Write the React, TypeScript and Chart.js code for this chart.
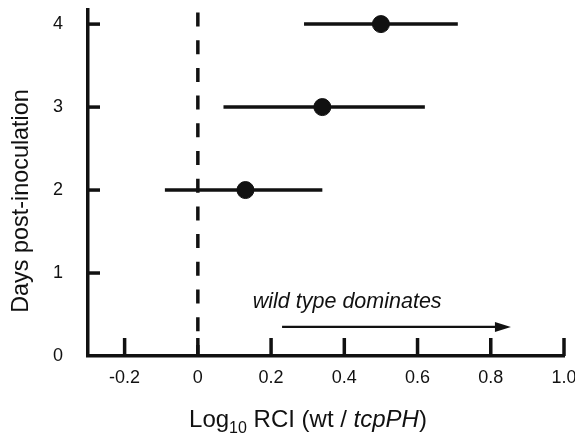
import React, { useEffect, useRef } from "react";
import { Chart, registerables } from "chart.js";

Chart.register(...registerables);

// ---- data ----
const days = [2, 3, 4];
const rciMean = [0.13, 0.34, 0.5];
const rciLow = [-0.09, 0.07, 0.29];
const rciHigh = [0.34, 0.62, 0.71];

const xTicks = [-0.2, 0, 0.2, 0.4, 0.6, 0.8, 1.0];
const yTicks = [0, 1, 2, 3, 4];
const xMin = -0.3;
const xMax = 1.0;
const yMin = 0;
const yMax = 4.17;

const arrowFrom = 0.23;
const arrowTo = 0.855;
const arrowY = 0.35;
const noteText = "wild type dominates";
const noteX = 0.15;
const noteY = 0.58;
const yTitle = "Days post-inoculation";
const xTitleParts = [
  { t: "Log", kind: "n" },
  { t: "10", kind: "sub" },
  { t: " RCI (wt / ", kind: "n" },
  { t: "tcpPH", kind: "i" },
  { t: ")", kind: "n" },
];

const FONT = "'Liberation Sans', Arial, Helvetica, sans-serif";

const fmtX = (v: number) => (v === 0 ? "0" : v.toFixed(1));

const decorPlugin = {
  id: "decor",
  afterDatasetsDraw(chart: any) {
    const { ctx, chartArea } = chart;
    const xs = chart.scales.x;
    const ys = chart.scales.y;
    ctx.save();
    // inward ticks
    ctx.strokeStyle = "#111";
    ctx.lineWidth = 3.5;
    ctx.lineCap = "butt";
    yTicks.forEach((v) => {
      if (v === 0) return;
      const py = ys.getPixelForValue(v);
      ctx.beginPath();
      ctx.moveTo(chartArea.left, py);
      ctx.lineTo(chartArea.left + 12, py);
      ctx.stroke();
    });
    xTicks.forEach((v) => {
      const px = xs.getPixelForValue(v);
      ctx.beginPath();
      ctx.moveTo(px, chartArea.bottom);
      ctx.lineTo(px, chartArea.bottom - 18);
      ctx.stroke();
    });
    // arrow head
    const tipX = xs.getPixelForValue(arrowTo);
    const ay = ys.getPixelForValue(arrowY);
    ctx.fillStyle = "#111";
    ctx.beginPath();
    ctx.moveTo(tipX, ay);
    ctx.lineTo(tipX - 16, ay - 5);
    ctx.lineTo(tipX - 16, ay + 5);
    ctx.closePath();
    ctx.fill();
    // note text
    ctx.font = `italic 21.5px ${FONT}`;
    ctx.textAlign = "left";
    ctx.textBaseline = "alphabetic";
    ctx.fillText(noteText, xs.getPixelForValue(noteX), ys.getPixelForValue(noteY));
    ctx.restore();
  },
  afterDraw(chart: any) {
    const { ctx } = chart;
    ctx.save();
    ctx.fillStyle = "#111";
    // y title
    ctx.translate(22, 201);
    ctx.rotate(-Math.PI / 2);
    ctx.font = `23.4px ${FONT}`;
    ctx.textAlign = "center";
    ctx.textBaseline = "middle";
    ctx.fillText(yTitle, 0, 0);
    ctx.restore();

    // x title with subscript & italic
    ctx.save();
    ctx.fillStyle = "#111";
    ctx.textBaseline = "alphabetic";
    ctx.textAlign = "left";
    const size = 24;
    const fontFor = (k: string) =>
      k === "i" ? `italic ${size}px ${FONT}` : k === "sub" ? `${Math.round(size * 0.66)}px ${FONT}` : `${size}px ${FONT}`;
    let total = 0;
    xTitleParts.forEach((p) => {
      ctx.font = fontFor(p.kind);
      total += ctx.measureText(p.t).width;
    });
    let x = 308 - total / 2;
    const base = 427;
    xTitleParts.forEach((p) => {
      ctx.font = fontFor(p.kind);
      ctx.fillText(p.t, x, p.kind === "sub" ? base + 6 : base);
      x += ctx.measureText(p.t).width;
    });
    ctx.restore();
  },
};

export default function App() {
  const ref = useRef<HTMLCanvasElement | null>(null);

  useEffect(() => {
    if (!ref.current) return;
    Chart.defaults.font.family = FONT;
    const ink = "#111";

    const errorSets = days.map((d, i) => ({
      type: "line" as const,
      data: [
        { x: rciLow[i], y: d },
        { x: rciHigh[i], y: d },
      ],
      borderColor: ink,
      borderWidth: 3.5,
      pointRadius: 0,
      showLine: true,
      order: 1,
    }));

    const chart = new Chart(ref.current, {
      type: "scatter",
      data: {
        datasets: [
          {
            data: days.map((d, i) => ({ x: rciMean[i], y: d })),
            backgroundColor: ink,
            borderColor: ink,
            pointRadius: 8.5,
            pointHoverRadius: 8.5,
            order: 0,
          } as any,
          ...errorSets,
          {
            type: "line" as const,
            data: [
              { x: 0, y: yMax - 0.03 },
              { x: 0, y: yMin },
            ],
            borderColor: ink,
            borderWidth: 3.5,
            borderDash: [14, 13.7],
            pointRadius: 0,
            showLine: true,
            order: 2,
          },
          {
            type: "line" as const,
            data: [
              { x: arrowFrom, y: arrowY },
              { x: arrowTo - 0.03, y: arrowY },
            ],
            borderColor: ink,
            borderWidth: 2.2,
            pointRadius: 0,
            showLine: true,
            order: 3,
          },
        ],
      },
      options: {
        animation: false,
        responsive: false,
        maintainAspectRatio: false,
        events: [],
        layout: { padding: { top: 10, right: 11, left: 0, bottom: 0 } },
        plugins: { legend: { display: false }, tooltip: { enabled: false } },
        scales: {
          x: {
            type: "linear",
            min: xMin,
            max: xMax,
            grid: { display: true, drawOnChartArea: false, drawTicks: false, color: "rgba(0,0,0,0)" },
            border: { display: true, color: ink, width: 3.5 },
            ticks: {
              autoSkip: false,
              padding: 11,
              color: ink,
              font: { size: 18, family: FONT },
              maxRotation: 0,
              callback: (v: any) => fmtX(Number(v)),
            },
            afterBuildTicks: (s: any) => {
              s.ticks = xTicks.map((v) => ({ value: v }));
            },
            afterFit: (s: any) => {
              s.height = 81;
              s.paddingLeft = 0;
              s.paddingRight = 0;
            },
          },
          y: {
            type: "linear",
            min: yMin,
            max: yMax,
            grid: { display: true, drawOnChartArea: false, drawTicks: false, color: "rgba(0,0,0,0)" },
            border: { display: true, color: ink, width: 3.5 },
            ticks: {
              padding: 25,
              color: ink,
              font: { size: 18, family: FONT },
              callback: (v: any) => String(v),
            },
            afterBuildTicks: (s: any) => {
              s.ticks = yTicks.map((v) => ({ value: v }));
            },
            afterFit: (s: any) => {
              s.width = 88;
              s.paddingTop = 0;
              s.paddingBottom = 0;
            },
          },
        },
      },
      plugins: [decorPlugin],
    } as any);
    return () => chart.destroy();
  }, []);

  return (
    <div style={{ position: "fixed", left: 0, top: 0, width: 575, height: 437, background: "#fff" }}>
      <canvas ref={ref} width={575} height={437} style={{ width: 575, height: 437, display: "block" }} />
    </div>
  );
}
